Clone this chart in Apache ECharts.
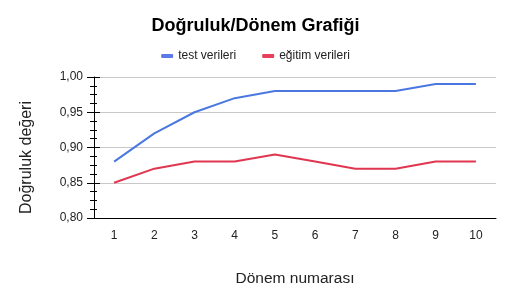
<!DOCTYPE html>
<html><head><meta charset="utf-8">
<script src="https://cdn.jsdelivr.net/npm/echarts@6/dist/echarts.min.js"></script>
<style>html,body{margin:0;padding:0;background:#fff}#c{width:511px;height:303px}</style>
</head><body><div id="c"></div>
<script>
const categories = ['1','2','3','4','5','6','7','8','9','10'];
const testData = [0.88,0.92,0.95,0.97,0.98,0.98,0.98,0.98,0.99,0.99];
const trainData = [0.85,0.87,0.88,0.88,0.89,0.88,0.87,0.87,0.88,0.88];
const seriesNames = ['test verileri','eğitim verileri'];
const F = 'Liberation Sans, Arial, sans-serif';
const chart = echarts.init(document.getElementById('c'));
const fmt = v => v.toFixed(2).replace('.', ',');
chart.setOption({
  backgroundColor:'#fff',
  animation:false,
  title:{text:'Doğruluk/Dönem Grafiği',left:'center',top:12,textStyle:{fontFamily:F,fontSize:18,fontWeight:'bold',color:'#000'}},
  legend:{top:45,left:'center',itemWidth:12,itemHeight:4,itemGap:26,icon:'roundRect',textStyle:{fontFamily:F,fontSize:12,color:'#222'},data:seriesNames},
  grid:{left:94,right:15,top:77,bottom:85},
  xAxis:{type:'category',data:categories,boundaryGap:true,
    name:'Dönem numarası',nameLocation:'middle',nameGap:53,nameTextStyle:{fontFamily:F,fontSize:15.5,color:'#222'},
    axisLine:{lineStyle:{color:'#000',width:1}},
    axisTick:{alignWithLabel:true,length:5,lineStyle:{color:'#000'}},
    axisLabel:{fontFamily:F,fontSize:12,color:'#222',margin:12},
    splitLine:{show:false}},
  yAxis:[{type:'value',min:0.8,max:1.0,interval:0.05,
    name:'Doğruluk değeri',nameLocation:'middle',nameGap:59,nameTextStyle:{fontFamily:F,fontSize:16,color:'#222',padding:[0,20,0,0]},
    axisLine:{show:true,lineStyle:{color:'#000'}},
    axisTick:{show:true,length:7,lineStyle:{color:'#000'}},
    minorTick:{show:true,splitNumber:4,length:4,lineStyle:{color:'#000'}},
    axisLabel:{fontFamily:F,fontSize:12,color:'#222',margin:11,formatter:fmt},
    splitLine:{show:true,lineStyle:{color:'#c8c8c8'}}},
   {type:'value',min:0.8,max:1.0,interval:0.05,position:'left',
    axisLine:{show:false},
    axisTick:{show:true,inside:true,length:6,lineStyle:{color:'#000'}},
    minorTick:{show:true,splitNumber:4,length:3,lineStyle:{color:'#000'}},
    axisLabel:{show:false},splitLine:{show:false}}],
  series:[
    {name:seriesNames[0],type:'line',data:testData,symbol:'none',lineStyle:{width:2,color:'#4a78e0'},itemStyle:{color:'#5a7ae8'}},
    {name:seriesNames[1],type:'line',data:trainData,symbol:'none',lineStyle:{width:2,color:'#e0364f'},itemStyle:{color:'#e8405a'}}
  ]
});
</script></body></html>
